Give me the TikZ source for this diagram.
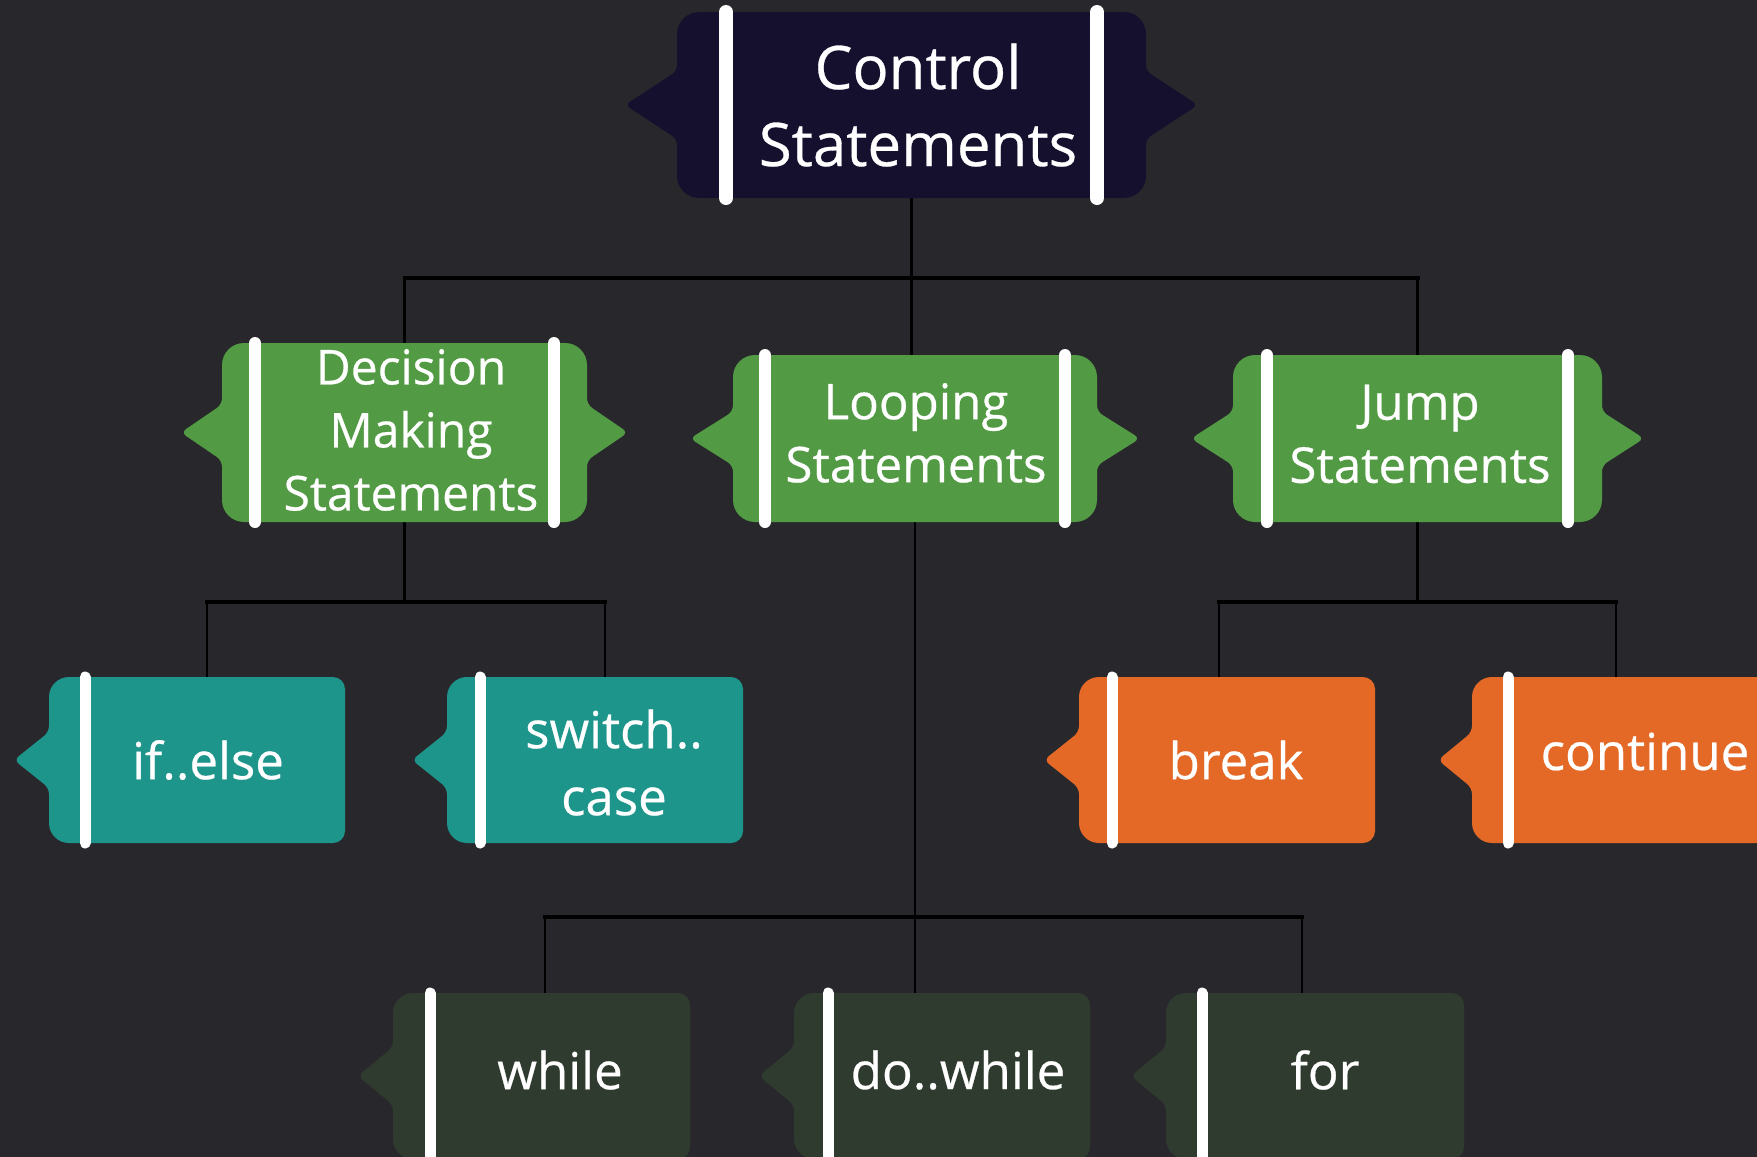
\documentclass[tikz,border=0pt]{standalone}
\usepackage{fontspec}
\setmainfont{Open Sans}
\newfontfamily\semifont[FakeBold=0.5]{Open Sans}
\usetikzlibrary{calc}
\definecolor{bgc}{RGB}{40,40,44}
\definecolor{navy}{RGB}{21,16,46}
\definecolor{grn}{RGB}{82,154,68}
\definecolor{tealc}{RGB}{30,149,139}
\definecolor{orng}{RGB}{228,104,38}
\definecolor{dgrn}{RGB}{48,59,47}
\pgfdeclarelayer{bglayer}
\pgfdeclarelayer{linelayer}
\pgfdeclarelayer{shapelayer}
\pgfsetlayers{bglayer,linelayer,shapelayer,main}
\tikzset{
  body/.style={rectangle, inner sep=0pt, outer sep=0pt},
  txt/.style={text=white, align=center, inner sep=0pt},
  toptxt/.style={txt, font=\semifont\fontsize{30}{38.5}\selectfont},
  midtxt/.style={txt, font=\semifont\fontsize{24.6}{31.5}\selectfont},
  leaftxt/.style={txt, font=\semifont\fontsize{25.5}{33.5}\selectfont},
  wbar/.style={white, line cap=round},
  vline/.style={black, line width=1.2pt},
  hline/.style={black, line width=2pt, line cap=rect},
}
% two-sided notched box: #1 node, #2 colour, #3 notch half height, #4 tip depth, #5 bar inset, #6 bar width
\newcommand\twoshape[6]{%
  \fill[#2, rounded corners=11pt] let \p1=(#1.north west), \p2=(#1.south east), \p3=(#1.center) in
    (\x3,\y1) -- (\x2,\y1) [rounded corners=3pt] -- (\x2,\y3+#3) -- (\x2+#4,\y3) -- (\x2,\y3-#3)
    [rounded corners=11pt] -- (\x2,\y2) -- (\x1,\y2) [rounded corners=3pt] -- (\x1,\y3-#3)
    -- (\x1-#4,\y3) -- (\x1,\y3+#3) [rounded corners=11pt] -- (\x1,\y1) -- cycle;
  \draw[wbar, line width=#6] let \p1=(#1.north west), \p2=(#1.south east) in
    (\x1+#5,\y1) -- (\x1+#5,\y2) (\x2-#5,\y1) -- (\x2-#5,\y2);
}
% one-sided notched box
\newcommand\oneshape[5]{%
  \fill[#2, rounded corners=6pt] let \p1=(#1.north west), \p2=(#1.south east), \p3=(#1.center) in
    (\x3,\y1) -- (\x2,\y1) -- (\x2,\y2) [rounded corners=10pt] -- (\x1,\y2)
    [rounded corners=3pt] -- (\x1,\y3-#3) -- (\x1-#4,\y3) -- (\x1,\y3+#3)
    [rounded corners=10pt] -- (\x1,\y1) -- cycle;
  \draw[wbar, line width=5.5pt] let \p1=(#1.north west), \p2=(#1.south east) in
    (\x1+#5,\y1) -- (\x1+#5,\y2);
}
\begin{document}
\begin{tikzpicture}[x=0.5pt, y=-0.5pt]
\useasboundingbox (0,0) rectangle (1757,1157);
\begin{pgfonlayer}{bglayer}
  \fill[bgc] (0,0) rectangle (1757,1157);
\end{pgfonlayer}

% nodes (body rectangles) with their texts
\node[body, minimum width=234.5pt, minimum height=93pt,
  label={[toptxt, xshift=3.25pt]center:Control\\Statements}] (ctrl) at (911.5,105) {};
\node[body, minimum width=182.5pt, minimum height=89.5pt,
  label={[midtxt, font=\semifont\fontsize{24}{31.5}\selectfont, xshift=3.25pt, yshift=1.25pt]center:Decision\\Making\\Statements}] (dec) at (404.5,432.5) {};
\node[body, minimum width=182pt, minimum height=83.5pt,
  label={[midtxt, xshift=0.5pt, yshift=2.8pt]center:Looping\\Statements}] (loop) at (915,438.5) {};
\node[body, minimum width=184.5pt, minimum height=83.5pt,
  label={[midtxt, xshift=1.25pt, yshift=2.3pt]center:Jump\\Statements}] (jump) at (1417.5,438.5) {};

\node[body, minimum width=148pt, minimum height=83pt,
  label={[leaftxt, xshift=5.5pt]center:if..else}] (ifelse) at (197,760) {};
\node[body, minimum width=148pt, minimum height=83pt,
  label={[leaftxt, xshift=9.5pt, yshift=-1.25pt]center:switch..\\case}] (switch) at (595,760) {};
\node[body, minimum width=148pt, minimum height=83pt,
  label={[leaftxt, xshift=4.5pt]center:break}] (brk) at (1227,760) {};
\node[body, minimum width=148pt, minimum height=83pt,
  label={[leaftxt, xshift=12.5pt, yshift=4.25pt]center:continue}] (cont) at (1620,760) {};

\node[body, minimum width=148.5pt, minimum height=83pt,
  label={[leaftxt, xshift=9.25pt, yshift=3pt]center:while}] (wh) at (541.5,1076) {};
\node[body, minimum width=148pt, minimum height=83pt,
  label={[leaftxt, xshift=8pt, yshift=3pt]center:do..while}] (dw) at (942,1076) {};
\node[body, minimum width=149pt, minimum height=83pt,
  label={[leaftxt, xshift=5pt, yshift=3pt]center:for}] (fr) at (1315,1076) {};

% shapes
\begin{pgfonlayer}{shapelayer}
  \twoshape{ctrl}{navy}{17pt}{26pt}{24.5pt}{7pt}
  \twoshape{dec}{grn}{14pt}{20.5pt}{16.5pt}{6pt}
  \twoshape{loop}{grn}{13.5pt}{21.5pt}{16pt}{6pt}
  \twoshape{jump}{grn}{13.5pt}{21pt}{17pt}{6pt}
  \oneshape{ifelse}{tealc}{14pt}{17.5pt}{18pt}
  \oneshape{switch}{tealc}{14pt}{17.5pt}{16.5pt}
  \oneshape{brk}{orng}{14pt}{17.5pt}{16.5pt}
  \oneshape{cont}{orng}{14pt}{17pt}{18pt}
  \oneshape{wh}{dgrn}{14.5pt}{17.5pt}{18.5pt}
  \oneshape{dw}{dgrn}{14.5pt}{17.5pt}{17pt}
  \oneshape{fr}{dgrn}{14.5pt}{17.5pt}{18pt}
\end{pgfonlayer}

% connectors
\begin{pgfonlayer}{linelayer}
  \coordinate (bus1) at (0,278);
  \coordinate (bus2) at (0,602);
  \coordinate (bus3) at (0,917);
  \coordinate (iec) at ([xshift=5pt]ifelse.north);
  \coordinate (swc) at ([xshift=5pt]switch.north);
  \coordinate (bkc) at ([xshift=-4pt]brk.north);
  \coordinate (ctc) at ([xshift=-2pt]cont.north);
  \coordinate (whc) at ([xshift=1.75pt]wh.north);
  \coordinate (frc) at ([xshift=-6.5pt]fr.north);
  % level 1
  \draw[vline] (ctrl.south) -- (ctrl.south |- loop.north);
  \draw[vline] (dec.north) -- (dec.north |- bus1);
  \draw[vline] (jump.north) -- (jump.north |- bus1);
  \draw[hline] (dec.north |- bus1) -- (jump.north |- bus1);
  % decision
  \draw[vline] (dec.south) -- (dec.south |- bus2);
  \draw[hline] (iec |- bus2) -- (swc |- bus2);
  \draw[vline] (iec |- bus2) -- (iec);
  \draw[vline] (swc |- bus2) -- (swc);
  % jump
  \draw[vline] (jump.south) -- (jump.south |- bus2);
  \draw[hline] (bkc |- bus2) -- (ctc |- bus2);
  \draw[vline] (bkc |- bus2) -- (bkc);
  \draw[vline] (ctc |- bus2) -- (ctc);
  % looping
  \draw[vline] (loop.south) -- (loop.south |- dw.north);
  \draw[hline] (whc |- bus3) -- (frc |- bus3);
  \draw[vline] (whc |- bus3) -- (whc);
  \draw[vline] (frc |- bus3) -- (frc);
\end{pgfonlayer}
\end{tikzpicture}
\end{document}
